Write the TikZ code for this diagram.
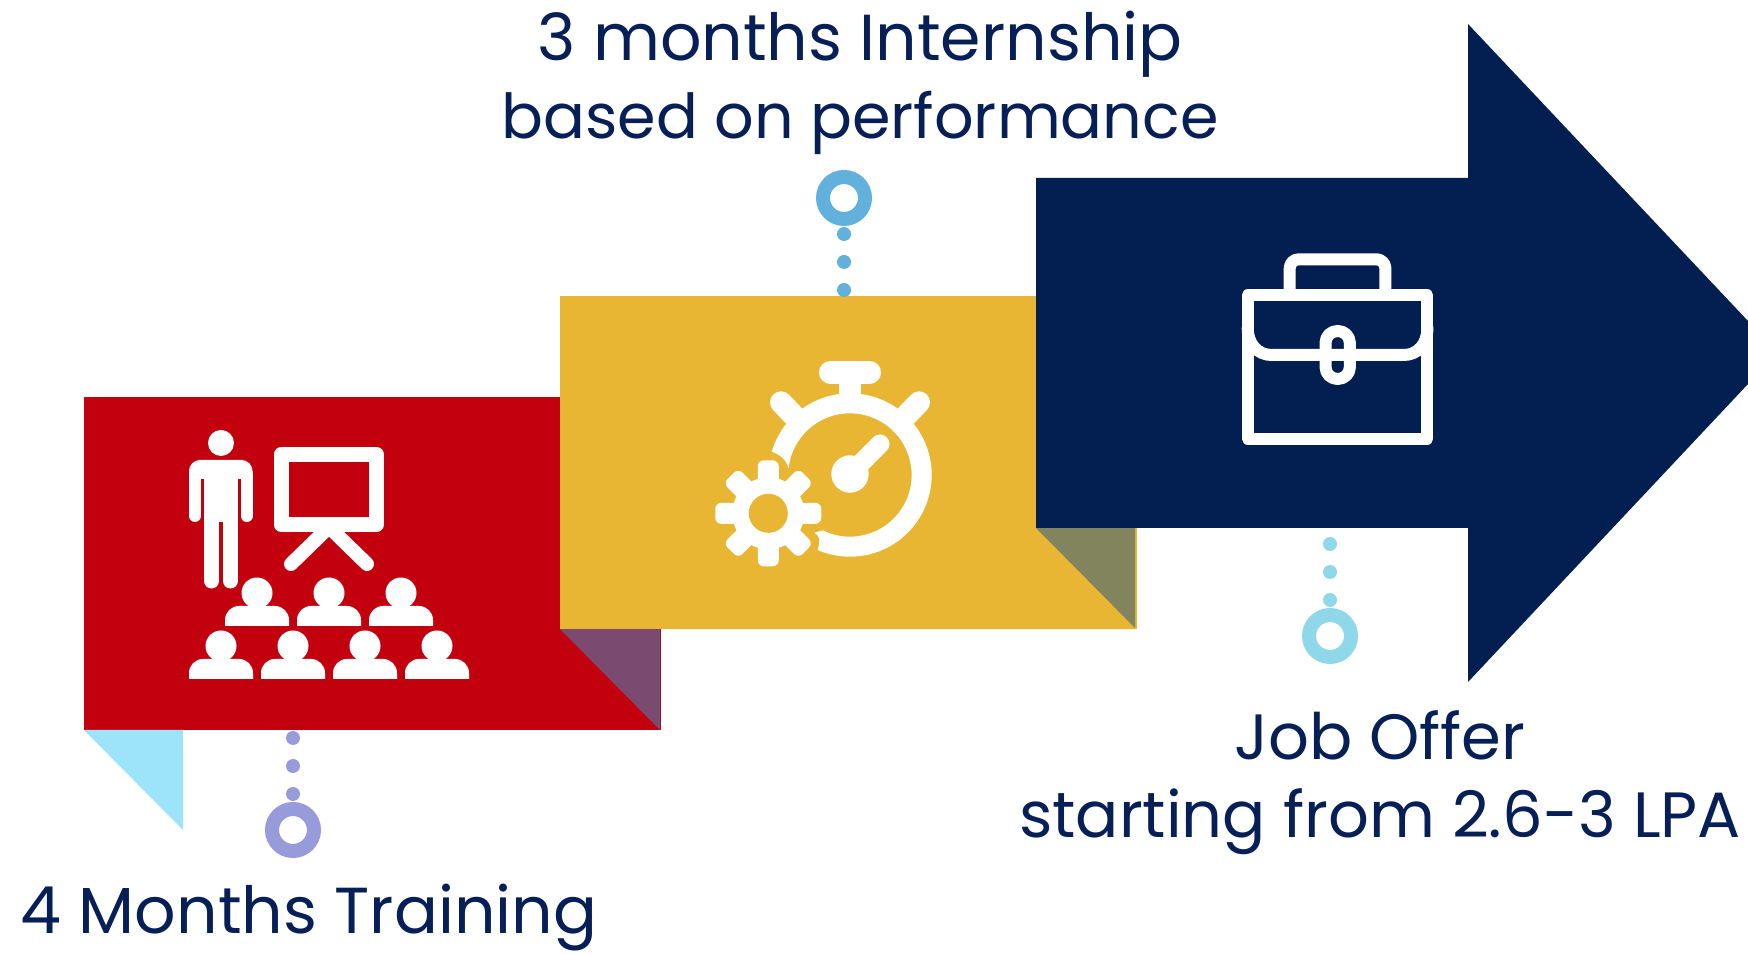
\documentclass[tikz,border=0pt]{standalone}
\usepackage{fontspec}
\setmainfont{Poppins}
\definecolor{navyBlue}{HTML}{031E50}
\definecolor{textBlue}{HTML}{061F56}
\definecolor{cardRed}{HTML}{C3000E}
\definecolor{cardYellow}{HTML}{E9B634}
\definecolor{foldPurple}{HTML}{7A4A70}
\definecolor{foldOlive}{HTML}{82845E}
\definecolor{foldSky}{HTML}{9DE4FA}
\definecolor{markLilac}{HTML}{979BD9}
\definecolor{markBlue}{HTML}{62B0DC}
\definecolor{markCyan}{HTML}{8FD8EA}

\begin{document}
\begin{tikzpicture}[
    x=1pt, y=1pt,
    cardnode/.style={rectangle, inner sep=0pt, outer sep=0pt, minimum width=577pt, minimum height=333pt},
    ringnode/.style={circle, inner sep=0pt, line width=14pt, minimum size=42pt},
    dotnode/.style={circle, inner sep=0pt, minimum size=14pt},
    labelnode/.style={align=center, inner sep=0pt, text=textBlue, font=\fontsize{64}{78}\selectfont},
    iconline/.style={draw=white, line cap=round, line join=round}
]
\useasboundingbox (0,0) rectangle (1748,953);

% Cards
\node[cardnode, fill=cardRed]    (training)   at (372.5,389.5) {};
\fill[foldPurple] (560,324) -- (660,324) -- (660,223) -- cycle;
\fill[foldSky] (84,223) -- (183,223) -- (183,123) -- cycle;
\node[cardnode, fill=cardYellow] (internship) at (848.5,490.5) {};
\fill[foldOlive] (1036,425) -- (1135,425) -- (1135,325) -- cycle;
\fill[navyBlue] (1036,775) -- (1468,775) -- (1468,929) -- (1748,632) -- (1748,569) -- (1468,271) -- (1468,425) -- (1036,425) -- cycle;

% Dots and rings
\foreach \n/\y in {1/215, 2/187, 3/159}
    \node[dotnode, fill=markLilac] (trainingDot\n) at (293,\y) {};
\node[ringnode, draw=markLilac] (trainingRing) at (293,123) {};
\foreach \n/\y in {1/719, 2/691, 3/663}
    \node[dotnode, fill=markBlue] (internshipDot\n) at (844,\y) {};
\node[ringnode, draw=markBlue] (internshipRing) at (844,755) {};
\foreach \n/\y in {1/409, 2/381, 3/353}
    \node[dotnode, fill=markCyan] (jobDot\n) at (1330,\y) {};
\node[ringnode, draw=markCyan] (jobRing) at (1330,317) {};

% Labels
\node[labelnode] (internshipLabel) at (860,870) {{\fontsize{65}{78}\selectfont 3 months Internship}\\{\fontsize{62}{78}\selectfont based on performance}};
\node[labelnode] (jobLabel)        at (1380,170) {Job Offer\\starting from 2.6-3 LPA};
\node[labelnode, font=\fontsize{65}{78}\selectfont] (trainingLabel)   at (309,35)  {4 Months Training};

% Trainer, board and audience
\begin{scope}[shift={(329,417)}]
\fill[white] (-108,93) circle (13);
\fill[white] (-140,57) -- (-140,65) arc[start angle=180, end angle=90, radius=11] -- (-87.5,76) arc[start angle=90, end angle=0, radius=11] -- (-76.5,57) -- cycle;
\fill[white] (-125,14) rectangle (-91,60);
\draw[iconline, line width=12pt] (-134,62) -- (-134,20);
\draw[iconline, line width=12pt] (-82.5,62) -- (-82.5,20);
\draw[iconline, line width=15pt] (-117.5,20) -- (-117.5,-45);
\draw[iconline, line width=15pt] (-98.5,20) -- (-98.5,-45);
\draw[iconline, line width=15pt] (-48,11.5) rectangle (47.5,81.5);
\draw[iconline, line width=14pt] (0,9) -- (38,-28);
\draw[iconline, line width=14pt] (0,9) -- (-38,-28);
\foreach \x/\y in {-72/-90, 0/-90, 72/-90, -108/-143, -36/-143, 36/-143, 108/-143} {
    \fill[white] (\x,\y+33) circle (15.5);
    \fill[white] (\x,\y) ++(-32,0) -- ++(0,6) arc[start angle=180, end angle=90, radius=14] -- ++(36,0) arc[start angle=90, end angle=0, radius=14] -- ++(0,-6) -- cycle;
}
\end{scope}

% Stopwatch and gear
\begin{scope}[shift={(850,478)}]
\fill[white] (163.4:81.7) arc[start angle=163.4, end angle=-113.4, radius=81.7]
    .. controls (-29,-65) and (-31,-60) .. (-35.7,-57.7) -- (-27.2,-55.4)
    arc[start angle=-116.1, end angle=174, radius=61.7]
    .. controls (-63,14) and (-69,20) .. cycle;
\fill[white] (-11.3,102) rectangle (11.3,75);
\draw[iconline, line width=22.7pt] (-19.7,102.7) -- (19.7,102.7);
\draw[iconline, line width=22pt] (-69,72.7) -- (-54,57);
\draw[iconline, line width=22pt] (69,72.7) -- (54,57);
\fill[white] (0,1) circle (18.7);
\draw[iconline, line width=19pt] (0,1) -- (30,31);
\begin{scope}[shift={(-81.7,-38.3)}]
\fill[white] (0,0) circle (36);
\foreach \a in {0,45,...,315}
    \fill[white, rounded corners=6, rotate=\a] (-10.5,0) rectangle (10.5,53);
\fill[cardYellow] (0,0) circle (19.5);
\end{scope}
\end{scope}

% Briefcase
\begin{scope}[shift={(1337.7,598)}]
\draw[iconline, line width=12pt] (-90,59.7) rectangle (89.7,-83.7);
\draw[iconline, line cap=butt, line width=12pt, rounded corners=9] (-48,60) -- (-48,95.7) -- (47.7,95.7) -- (47.7,60);
\draw[iconline, line width=12pt] (-90,27) .. controls (-90,11) and (-80,0) .. (-66,0) -- (66,0) .. controls (80,0) and (89.7,11) .. (89.7,27);
\draw[iconline, line width=12pt, rounded corners=12] (-12.2,-24) rectangle (12.2,24);
\end{scope}
\end{tikzpicture}
\end{document}
